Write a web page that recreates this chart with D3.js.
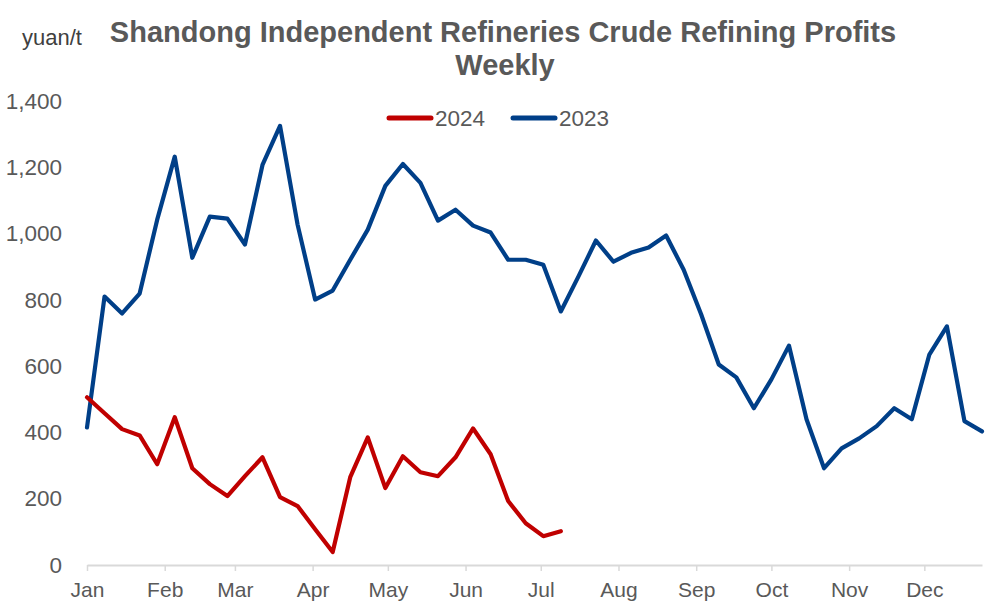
<!DOCTYPE html>
<html>
<head>
<meta charset="utf-8">
<script src="https://cdn.jsdelivr.net/npm/d3@7"></script>
<style>
  html, body { margin: 0; padding: 0; background: #ffffff; }
  svg { display: block; font-family: "Liberation Sans", Arial, sans-serif; }
</style>
</head>
<body>
<svg id="chart" width="1005" height="615"></svg>
<script>
// ---- data ----
const titleLines = ["Shandong Independent Refineries Crude Refining Profits", "Weekly"];
const unitLabel = "yuan/t";
const seriesNames = ["2024", "2023"];
const firstWeek = "2023-01-01";
const axisEnd = "2023-12-24";
const values2023 = [415, 810, 759, 819, 1042, 1232, 927, 1051, 1045, 967,
                    1207, 1325, 1027, 801, 828, 921, 1012, 1144, 1210, 1153,
                    1039, 1072, 1024, 1003, 921, 921, 906, 765, 870, 979,
                    915, 942, 958, 994, 891, 756, 605, 566, 473, 560,
                    662, 440, 292, 352, 382, 419, 473, 440, 635, 720,
                    434, 403];
const values2024 = [506, 458, 410, 391, 304, 446, 292, 244, 208, 268,
                    325, 205, 178, 108, 39, 265, 385, 232, 328, 280,
                    268, 325, 412, 334, 193, 126, 87, 102];
const yTicks = [0, 200, 400, 600, 800, 1000, 1200, 1400];

// ---- drawing ----
const svg = d3.select("#chart");
const parse = d3.timeParse("%Y-%m-%d");
const start = parse(firstWeek);
const end = parse(axisEnd);
const weekDate = i => d3.timeDay.offset(start, 7 * i);

const x = d3.scaleTime().domain([start, end]).range([87, 982]);
const y = d3.scaleLinear().domain([0, 1400]).range([565, 101]);

const textColor = "#595959";

// title
svg.append("text").attr("x", 503).attr("y", 42).attr("text-anchor", "middle")
  .attr("font-size", 29).attr("font-weight", "bold").attr("fill", textColor)
  .text(titleLines[0]);
svg.append("text").attr("x", 505).attr("y", 75).attr("text-anchor", "middle")
  .attr("font-size", 29).attr("font-weight", "bold").attr("fill", textColor)
  .text(titleLines[1]);

// unit
svg.append("text").attr("x", 22).attr("y", 45)
  .attr("font-size", 22).attr("fill", "#404040").text(unitLabel);

// y axis labels (no line)
const yAxis = d3.axisLeft(y).tickValues(yTicks).tickSize(0).tickPadding(0)
  .tickFormat(d3.format(","));
const gy = svg.append("g").attr("transform", "translate(62,0)").call(yAxis);
gy.select(".domain").remove();
gy.selectAll("text").attr("font-size", 22.5).attr("fill", textColor)
  .attr("font-family", "'Liberation Sans', Arial, sans-serif");

// x axis
const months = d3.timeMonth.range(start, d3.timeDay.offset(end, 1));
const xAxis = d3.axisBottom(x).tickValues(months).tickSize(6).tickSizeOuter(0)
  .tickPadding(11).tickFormat(d3.timeFormat("%b"));
const gx = svg.append("g").attr("transform", "translate(0,565)").call(xAxis);
gx.select(".domain").attr("stroke", "#d9d9d9").attr("stroke-width", 2);
gx.selectAll(".tick line").attr("stroke", "#d9d9d9").attr("stroke-width", 1.5);
gx.selectAll("text").attr("font-size", 21).attr("fill", textColor)
  .attr("font-family", "'Liberation Sans', Arial, sans-serif");

// lines
const line = d3.line().x((d, i) => x(weekDate(i))).y(d => y(d));
const series = [
  { name: seriesNames[1], values: values2023, color: "#003f88" },
  { name: seriesNames[0], values: values2024, color: "#c00000" }
];
series.forEach(s => {
  svg.append("path").datum(s.values).attr("d", line)
    .attr("fill", "none").attr("stroke", s.color).attr("stroke-width", 4.2)
    .attr("stroke-linejoin", "round").attr("stroke-linecap", "round");
});

// legend
const legendItems = [
  { name: seriesNames[0], color: "#c00000", x: 389 },
  { name: seriesNames[1], color: "#003f88", x: 513 }
];
legendItems.forEach(it => {
  svg.append("line").attr("x1", it.x).attr("x2", it.x + 42)
    .attr("y1", 118).attr("y2", 118).attr("stroke", it.color)
    .attr("stroke-width", 5).attr("stroke-linecap", "round");
  svg.append("text").attr("x", it.x + 46).attr("y", 126)
    .attr("font-size", 22.5).attr("fill", textColor).text(it.name);
});
</script>
</body>
</html>
